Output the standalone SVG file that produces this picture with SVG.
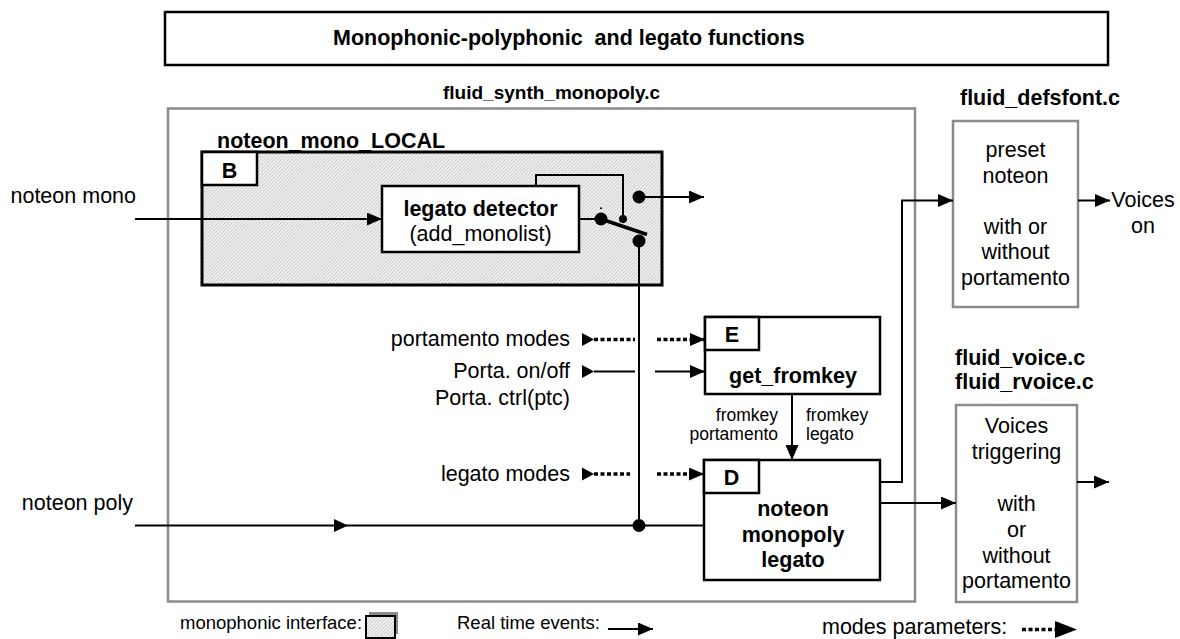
<svg xmlns="http://www.w3.org/2000/svg" width="1180" height="639" viewBox="0 0 1180 639">
<style>
text { font-family: "Liberation Sans", Arial, sans-serif; font-size: 21.5px; fill: #000; }
.b { font-weight: bold; }
.m { text-anchor: middle; }
.e { text-anchor: end; }
.sm { font-size: 17.5px; }
.lg { font-size: 18.5px; }
.ln { fill: none; stroke: #000; stroke-width: 2; }
.dot { fill: none; stroke: #000; stroke-width: 3.5; stroke-dasharray: 4 2.5; }
.box { fill: #fff; stroke: #000; stroke-width: 2.5; }
.gbox { fill: #fff; stroke: #8c8c8c; stroke-width: 2.5; }
.ah { fill: #000; }
</style>
<defs>
<pattern id="hatch" width="3.5" height="3.5" patternUnits="userSpaceOnUse">
<rect width="3.5" height="3.5" fill="#f2f2f2"/>
<path d="M-1,1 L1,-1 M0,3.5 L3.5,0 M2.5,4.5 L4.5,2.5" stroke="#a8a8a8" stroke-width="0.7"/>
</pattern>
<marker id="arr" viewBox="0 0 15 13" refX="15" refY="6.5" markerWidth="15" markerHeight="13" markerUnits="userSpaceOnUse" orient="auto">
<path d="M0,0 L15,6.5 L0,13 z" fill="#000"/>
</marker>
</defs>

<rect x="0" y="0" width="1180" height="639" fill="#fff"/>

<!-- heading -->
<g id="title">
<rect x="165" y="12" width="943" height="53" class="box"/>
<text x="333" y="45" class="b" xml:space="preserve">Monophonic-polyphonic  and legato functions</text>
</g>

<!-- module containing the mono/poly logic -->
<g id="monopoly_module">
<text x="443" y="99" class="b" style="font-size:19px">fluid_synth_monopoly.c</text>
<rect x="168" y="108.5" width="747" height="493" class="gbox"/>
</g>

<!-- B: monophonic interface -->
<g id="node_B">
<text x="217" y="148" class="b">noteon_mono_LOCAL</text>
<rect x="202" y="152" width="460" height="133" fill="url(#hatch)" stroke="#000" stroke-width="3"/>
<rect x="202" y="152" width="55" height="33" class="box" stroke-width="2"/>
<text x="229.5" y="178" class="b m">B</text>
</g>

<g id="legato_detector">
<rect x="382" y="186" width="197" height="66" class="box"/>
<text x="480.5" y="216" class="b m">legato detector</text>
<text x="480.5" y="241" class="m">(add_monolist)</text>
</g>

<!-- mono/poly switch -->
<g id="switch">
<line x1="579" y1="219" x2="601" y2="219" class="ln"/>
<circle cx="601" cy="219" r="6.5"/>
<rect x="600" y="207.5" width="2" height="1.5"/>
<line x1="601" y1="219" x2="647" y2="234.5" stroke="#000" stroke-width="3.5"/>
<circle cx="623" cy="219" r="4"/>
<circle cx="639" cy="241" r="6.5"/>
<circle cx="639" cy="197" r="6.5"/>
<path d="M536,186 V175 H623 V215" class="ln"/>
</g>

<!-- E: get_fromkey -->
<g id="node_E">
<rect x="705" y="317" width="175" height="77" class="box"/>
<rect x="705" y="317" width="54" height="33" class="box" stroke-width="2"/>
<text x="732" y="342" class="b m">E</text>
<text x="793" y="383" class="b m">get_fromkey</text>
</g>

<!-- D: noteon monopoly legato -->
<g id="node_D">
<rect x="704" y="460" width="176" height="120" class="box"/>
<rect x="704" y="460" width="55" height="33" class="box" stroke-width="2"/>
<text x="731.5" y="485" class="b m">D</text>
<text x="793" y="516" class="b m">noteon</text>
<text x="793" y="541.5" class="b m">monopoly</text>
<text x="793" y="567" class="b m">legato</text>
</g>

<g id="preset_noteon">
<text x="1040" y="105" class="b m">fluid_defsfont.c</text>
<rect x="953" y="121" width="125" height="186" class="gbox"/>
<text x="1015.5" y="157" class="m">preset</text>
<text x="1015.5" y="182.5" class="m">noteon</text>
<text x="1015.5" y="233.5" class="m">with or</text>
<text x="1015.5" y="259" class="m">without</text>
<text x="1015.5" y="284.5" class="m">portamento</text>
</g>

<g id="voices_triggering">
<text x="955" y="365" class="b">fluid_voice.c</text>
<text x="955" y="389" class="b">fluid_rvoice.c</text>
<rect x="956" y="405" width="121" height="197" class="gbox"/>
<text x="1016.5" y="433" class="m">Voices</text>
<text x="1016.5" y="459" class="m">triggering</text>
<text x="1016.5" y="511" class="m">with</text>
<text x="1016.5" y="537" class="m">or</text>
<text x="1016.5" y="563" class="m">without</text>
<text x="1016.5" y="588" class="m">portamento</text>
</g>

<!-- inputs and outputs labels -->
<g id="labels">
<text x="136" y="203" class="e">noteon mono</text>
<text x="133" y="510" class="e">noteon poly</text>
<text x="570" y="346" class="e">portamento modes</text>
<text x="570" y="377.5" class="e">Porta. on/off</text>
<text x="570" y="405" class="e">Porta. ctrl(ptc)</text>
<text x="570" y="481" class="e">legato modes</text>
<text x="778" y="421" class="e sm">fromkey</text>
<text x="778" y="440" class="e sm">portamento</text>
<text x="806" y="421" class="sm">fromkey</text>
<text x="806" y="440" class="sm">legato</text>
<text x="1143" y="207" class="m">Voices</text>
<text x="1143" y="233" class="m">on</text>
</g>

<g id="connectors">
<path d="M135,219 H382" class="ln" marker-end="url(#arr)"/>
<path d="M639,197 H704" class="ln" marker-end="url(#arr)"/>
<path d="M639,241 V525.5" class="ln"/>
<path d="M135,525.5 H704" class="ln"/>
<polygon points="334,519 348,525.5 334,532" class="ah"/>
<circle cx="639" cy="525.5" r="6.5"/>
<polygon points="582,333 594,339.5 582,346" class="ah"/>
<path d="M594,339.5 H635" class="dot"/>
<path d="M657,339.5 H705" class="dot" marker-end="url(#arr)"/>
<polygon points="582,365 594,371.5 582,378" class="ah"/>
<path d="M594,371.5 H635" class="ln"/>
<path d="M655,371.5 H705" class="ln" marker-end="url(#arr)"/>
<polygon points="582,467.5 594,474 582,480.5" class="ah"/>
<path d="M594,474 H630" class="dot"/>
<path d="M657,474 H704" class="dot" marker-end="url(#arr)"/>
<path d="M792,394 V460" class="ln" marker-end="url(#arr)"/>
<path d="M880,482 H902 V200.5 H953" class="ln" marker-end="url(#arr)"/>
<path d="M880,503 H956" class="ln" marker-end="url(#arr)"/>
<path d="M1078,200.5 H1110" class="ln" marker-end="url(#arr)"/>
<path d="M1077,482 H1109" class="ln" marker-end="url(#arr)"/>
</g>

<g id="legend">
<text x="180" y="629" class="lg">monophonic interface:</text>
<rect x="369" y="612" width="29" height="22" fill="#8c8c8c"/>
<rect x="366" y="616" width="29" height="22" fill="url(#hatch)" stroke="#000" stroke-width="2"/>
<text x="457" y="629" class="lg">Real time events:</text>
<path d="M608,629 H653" class="ln" marker-end="url(#arr)"/>
<text x="822" y="634">modes parameters:</text>
<path d="M1022,629.5 H1056" class="dot"/>
<polygon points="1055,621 1077,629.5 1055,638" class="ah"/>
</g>
</svg>
